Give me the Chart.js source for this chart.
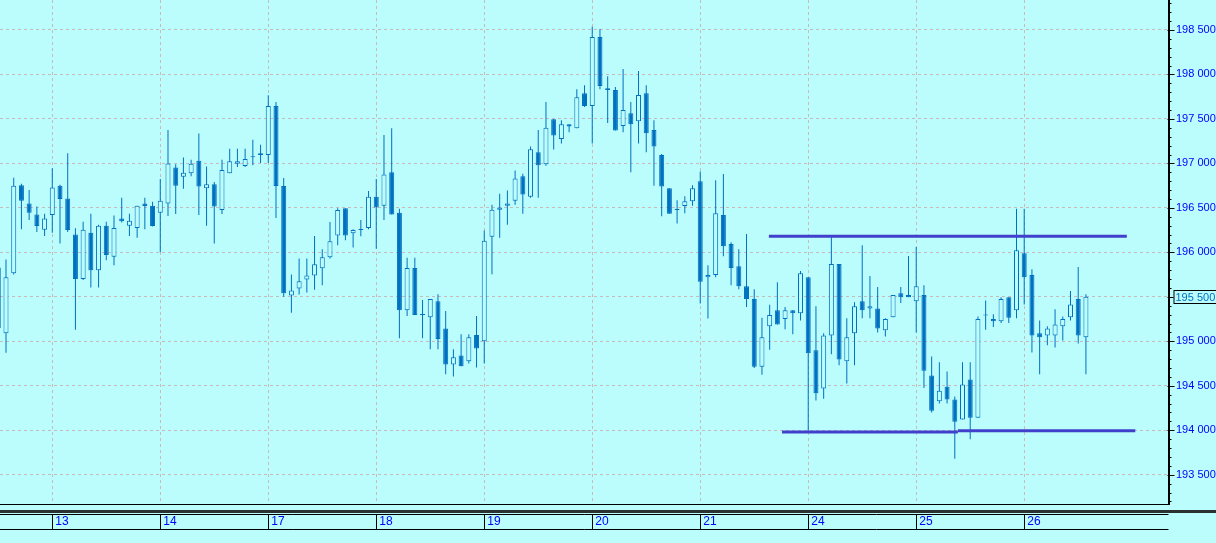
<!DOCTYPE html>
<html><head><meta charset="utf-8">
<script src="https://cdn.jsdelivr.net/npm/chart.js"></script>
<style>html,body{margin:0;padding:0;background:#bbfcfc;overflow:hidden}canvas{display:block}</style>
</head><body>
<canvas id="c" width="1216" height="543"></canvas>
<script>
// candle data (index 0 is the partially visible first candle)
const opens = [195150,
195090,195765,196755,196550,196425,196255,196420,196750,196605,196200,195700,196220,195800,196300,195950,196380,196300,196275,196550,196525,
196445,196550,196955,196850,196890,197030,196720,196765,196475,196890,196995,196970,197070,197095,197095,197645,196745,195515,195595,195695,
195740,195820,195945,196190,196495,196215,196250,196275,196625,196525,196900,196445,195350,195825,195295,195270,195450,195145,194740,194840,
194775,195070,195000,196175,196480,196525,196580,196855,196625,197125,196990,197495,197275,197440,197395,197790,197645,198420,197845,197825,
197420,197565,197475,197790,197375,197095,196720,196475,196520,196575,196800,195720,195745,196420,196095,195845,195620,195475,194715,195170,
195350,195250,195350,195315,195720,194900,194470,195065,195870,194775,195090,195450,195370,195370,195125,195270,195540,195520,195450,195520,
194615,194325,194490,194345,194120,194570,194140,195290,195250,195225,195495,195350,195990,195745,195090,195065,195065,195170,195270,195475,
195045];
const highs = [195900,
195920,196840,196770,196700,196515,196435,196945,196760,197115,196270,196345,196435,196310,196345,196415,196615,196435,196525,196615,196570,
196825,197375,196990,197065,197040,197335,196965,196790,197040,197165,197165,197165,197265,197210,197765,197690,196835,195750,195930,195930,
196185,196035,196340,196495,196495,196260,196365,196690,196825,197320,197395,196490,195940,195940,195465,195475,195530,195340,194910,195080,
195080,195285,196245,196535,196660,196695,196920,196885,197190,197375,197690,197500,197485,197440,197835,197880,198535,198510,197980,197860,
198060,197690,198040,197880,197485,197105,196720,196585,196630,196755,196910,195855,196810,196880,196115,196035,196205,195585,195265,195410,
195665,195385,195350,195790,195720,195395,195090,196175,195870,195260,195440,196080,195735,195610,195260,195520,195610,195960,196060,195630,
194830,194765,194660,194380,194765,194765,195280,195460,195305,195495,195495,196490,196490,195810,195235,195170,195360,195280,195565,195835,
195530];
const lows = [195100,
194870,195750,196260,196365,196230,196185,196220,196100,196230,195130,195690,195605,195605,195910,195855,196335,196185,196165,196260,196290,
196000,196410,196430,196715,196855,196420,196300,196100,196430,196890,196960,196960,196980,197005,197005,196385,195500,195320,195525,195550,
195580,195630,195930,196080,196135,196055,196180,196260,196040,196365,196425,195035,195285,195295,195035,194910,194910,194630,194605,194720,
194750,194705,194750,195755,196165,196310,196535,196435,196615,196615,196975,197155,197225,197350,197395,197635,197225,197835,197455,197370,
197350,196900,197225,197125,196750,196405,196435,196325,196440,196525,195425,195255,195720,195955,195630,195585,195385,194700,194625,194905,
195190,195135,195080,195235,193990,194335,194355,194855,194730,194525,194730,195260,195260,195100,195055,195270,195430,195495,195100,194475,
194200,194300,194300,193680,194120,193900,194140,195130,195160,195205,195205,195260,195415,194875,194630,194955,194930,195010,195235,194975,
194630];
const closes = [195830,
195720,196750,196580,196445,196295,196380,196730,196600,196250,195700,196255,195800,196300,195970,196275,196350,196355,196525,196520,196295,
196580,197000,196750,196895,196995,196740,196765,196515,196925,197025,197025,197050,197072,197115,197645,196745,195540,195570,195675,195740,
195865,195945,196125,196475,196190,196250,196252,196625,196505,196875,196425,195350,195825,195295,195297,195475,195025,194740,194820,194720,
195045,194920,196130,196480,196505,196550,196830,196650,197160,196980,197400,197315,197440,197415,197745,197645,198420,197870,197825,197370,
197600,197440,197770,197340,197190,196740,196435,196477,196575,196720,195670,195745,196440,196070,195825,195620,195475,194715,195045,195295,
195190,195350,195315,195765,194865,194415,195065,195870,194795,195045,195395,195350,195395,195145,195250,195520,195495,195495,195620,194670,
194220,194445,194345,194095,194515,194140,195250,195293,195225,195475,195265,196025,195720,195065,195045,195145,195190,195250,195415,195065,
195500];

// day separators (candle index) and their labels
const dayTicks = [7, 21, 35, 49, 63, 77, 91, 105, 119, 133];
const dayLabels = ['13', '14', '17', '18', '19', '20', '21', '24', '25', '26'];
// price axis labels
const priceTicks = [193500, 194000, 194500, 195000, 195500, 196000, 196500, 197000, 197500, 198000, 198500];

// drawn support / resistance levels (start index, end index, price)
const levelStarts = [99.9, 101.6, 124.4];
const levelEnds = [146.3, 124.4, 147.4];
const levelValues = [196182, 193980, 193994];

const BG = '#bbfcfc';
const BLUE = '#0070c0';
const GRID = '#c6baba';
const FONT = "'Liberation Sans', Arial, sans-serif";

const fmt = v => Math.floor(v / 1000) + ' ' + String(Math.round(v % 1000)).padStart(3, '0');

const wickData = highs.map((h, i) => ({x: i, y: [lows[i], h]}));
const bodyData = opens.map((o, i) => ({x: i, y: [Math.min(o, closes[i]), Math.max(o, closes[i])]}));
const bodyFill = opens.map((o, i) => closes[i] > o ? BG : BLUE);

const levelSets = levelValues.map((v, k) => ({
  type: 'line',
  data: [{x: levelStarts[k], y: v}, {x: levelEnds[k], y: v}],
  borderColor: '#4040cc', borderWidth: 3, pointRadius: 0, order: 0, tension: 0
}));

const deco = {
  id: 'deco',
  beforeDraw(chart) {
    const c = chart.ctx;
    c.save(); c.fillStyle = BG; c.fillRect(0, 0, chart.width, chart.height); c.restore();
  },
  afterDraw(chart) {
    const c = chart.ctx, a = chart.chartArea, xs = chart.scales.x, ys = chart.scales.y;
    c.save();
    c.strokeStyle = '#000'; c.lineWidth = 1;
    const ax = Math.round(a.right) - 0.5;
    const bl = Math.round(a.bottom) + 0.5;
    // axis lines
    c.beginPath();
    c.moveTo(ax, 0); c.lineTo(ax, bl);
    c.moveTo(0, bl); c.lineTo(ax, bl);
    c.stroke();
    // price axis ticks (minor every 100, major every 500)
    c.beginPath();
    for (let v = Math.ceil(ys.min / 100) * 100; v <= ys.max; v += 100) {
      const py = Math.round(ys.getPixelForValue(v)) + 0.5;
      if (v % 500 === 0) { c.moveTo(ax - 1, py); c.lineTo(ax + 6, py); }
      else { c.moveTo(ax, py); c.lineTo(ax + 3, py); }
    }
    c.stroke();
    // date strip
    const b = Math.round(a.bottom);
    c.fillStyle = '#2b3030';
    c.fillRect(0, b + 6, chart.width, 3);
    c.beginPath();
    c.moveTo(0, b + 10.5); c.lineTo(ax, b + 10.5);
    c.moveTo(0, b + 25.5); c.lineTo(ax, b + 25.5);
    dayTicks.forEach(d => {
      const px = Math.round(xs.getPixelForValue(d)) + 0.5;
      c.moveTo(px, b + 10.5); c.lineTo(px, b + 25.5);
    });
    c.stroke();
    // last price box
    const last = closes[closes.length - 1];
    const py = Math.round(ys.getPixelForValue(last));
    c.fillStyle = BG;
    c.fillRect(ax + 5, py - 6, 60, 12);
    c.strokeRect(ax + 5.5, py - 6.5, 60, 13);
    c.fillStyle = BLUE;
    c.font = '11px ' + FONT;
    c.textBaseline = 'middle';
    c.textAlign = 'left';
    c.fillText(fmt(last), ax + 7, py + 0.5);
    c.restore();
  }
};

Chart.defaults.font.family = FONT;
Chart.defaults.font.size = 12;

new Chart(document.getElementById('c'), {
  type: 'bar',
  data: {
    datasets: [
      ...levelSets,
      {type: 'bar', data: bodyData, backgroundColor: bodyFill, borderColor: BLUE, borderWidth: 1,
       borderSkipped: false, barThickness: 5, grouped: false, minBarLength: 1, inflateAmount: 0, order: 1},
      {type: 'bar', data: wickData, backgroundColor: BLUE, borderWidth: 0, borderSkipped: false,
       barThickness: 1, grouped: false, inflateAmount: 0, order: 2}
    ]
  },
  options: {
    responsive: false,
    animation: false,
    devicePixelRatio: 1,
    layout: {padding: 0},
    plugins: {legend: {display: false}, tooltip: {enabled: false}},
    events: [],
    scales: {
      x: {
        type: 'linear', min: 0.222, max: 151.77, offset: false,
        afterBuildTicks: s => { s.ticks = dayTicks.map(v => ({value: v})); },
        afterFit: s => { s.height = 39; s.paddingLeft = 0; s.paddingRight = 0; },
        grid: {color: GRID, lineWidth: 1, drawTicks: false, offset: false, borderDash: [3, 3]},
        border: {display: true, color: '#000', width: 1, dash: [3, 3]},
        ticks: {
          autoSkip: false, maxRotation: 0, minRotation: 0, align: 'start', labelOffset: 3, padding: 10,
          color: '#0000ff', font: {size: 12, family: FONT},
          callback: (v) => { const k = dayTicks.indexOf(v); return k >= 0 ? dayLabels[k] : ''; }
        }
      },
      y: {
        type: 'linear', position: 'right', min: 193171, max: 198837, beginAtZero: false,
        afterBuildTicks: s => { s.ticks = priceTicks.map(v => ({value: v})); },
        afterFit: s => { s.width = 47; s.paddingTop = 0; s.paddingBottom = 0; },
        grid: {color: GRID, lineWidth: 1, drawTicks: false, borderDash: [3, 3]},
        border: {display: true, color: '#000', width: 1, dash: [3, 3]},
        ticks: {
          autoSkip: false, padding: 7, color: '#0000ff', font: {size: 11, family: FONT},
          callback: v => fmt(v)
        }
      }
    }
  },
  plugins: [deco]
});
</script>
</body></html>
